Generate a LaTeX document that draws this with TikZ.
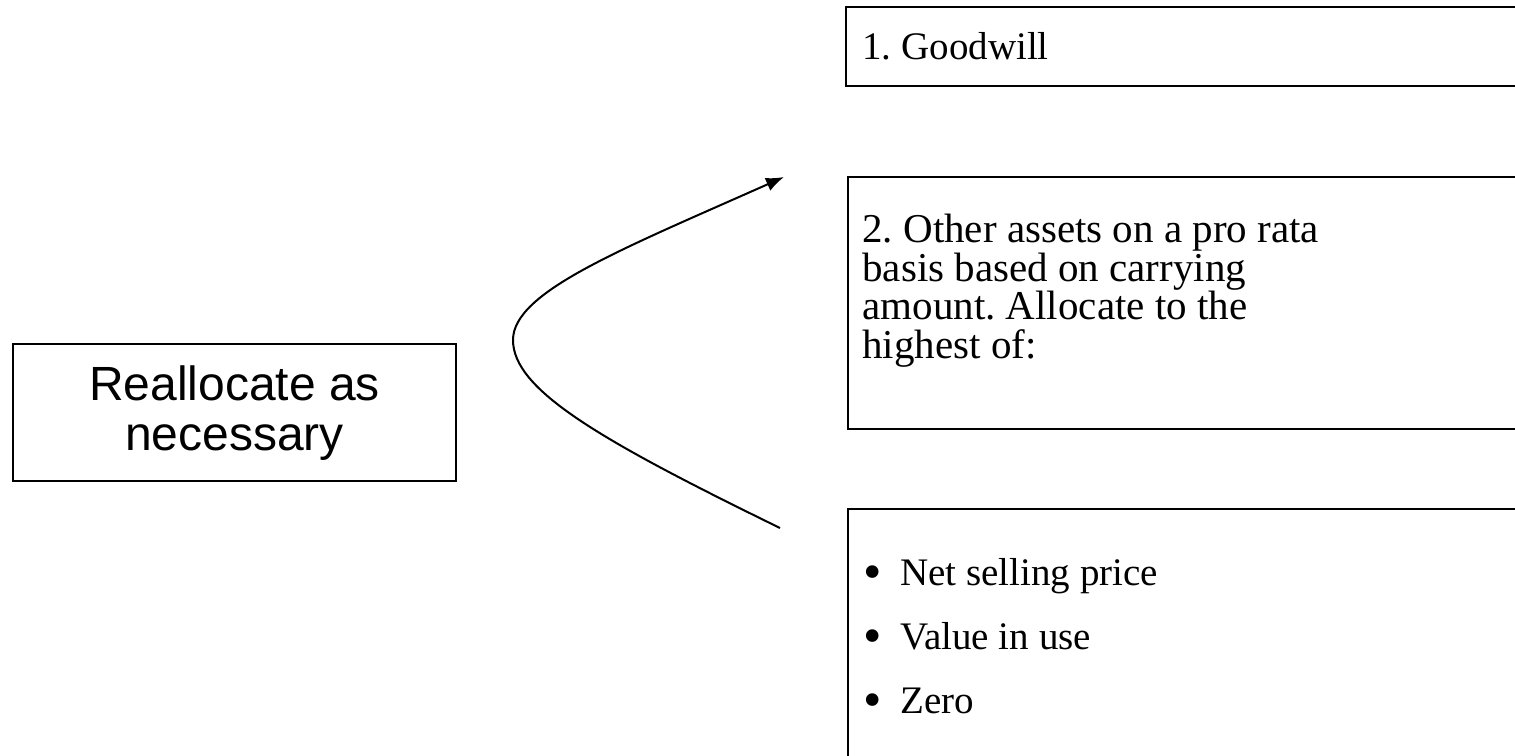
\documentclass[tikz,border=0pt]{standalone}
\usepackage{fontspec}
\usepackage{graphicx}
\setmainfont{Liberation Serif}
\newfontfamily\arialfnt{Liberation Sans}
\newcommand\bulit{\makebox[18.5pt][l]{\raisebox{-1.8pt}{\scalebox{1.35}{\textbullet}}}}
\frenchspacing
\usetikzlibrary{arrows.meta,positioning}

\begin{document}
\begin{tikzpicture}[x=0.5pt,y=-0.5pt,
    rbox/.style={draw,line width=1.1pt,inner sep=0pt,anchor=north west,minimum width=345pt},
    rtxt/.style={inner sep=0pt,align=left,anchor=north west,font=\fontsize{20.5}{19.25}\selectfont},
    btxt/.style={rtxt,font=\fontsize{19.5}{32}\selectfont}]
 \useasboundingbox (0,0) rectangle (1515,755);
 \clip (0,0) rectangle (1515,755);
 \node[draw,line width=1.1pt,minimum width=221.5pt,minimum height=68.5pt,align=center,
   font=\arialfnt\fontsize{24}{25}\selectfont,anchor=north west] (realloc) at (12,343)
  {Reallocate as\\necessary};
 \node[rbox,minimum height=39.5pt] (good) at (845,6) {};
 \node[rbox,minimum height=126pt] (other) at (847,176) {};
 \node[rbox,minimum height=140pt] (lowest) at (847,508) {};
 \node[rtxt,anchor=base west,font=\fontsize{19.5}{19.5}\selectfont] (goodtxt) at (862,59) {1. Goodwill};
 \node[rtxt] (othertxt) at (862,214)
  {2. Other assets on a pro rata\\basis based on carrying\\amount. Allocate to the\\highest of:};
 \node[btxt] (lowtxt) at (863,558)
  {\bulit Net selling price\\
   \bulit Value in use\\
   \bulit Zero};
 \coordinate (from) at (780,528);
 \coordinate (turn) at (513,340);
 \coordinate (to) at (784,177);
 \draw[line width=1pt,-{Latex[length=9pt,width=7pt]}] (from)
  .. controls (600,440) and (513,390) .. (turn)
  .. controls (513,292) and (620,250) .. (to);
\end{tikzpicture}
\end{document}
